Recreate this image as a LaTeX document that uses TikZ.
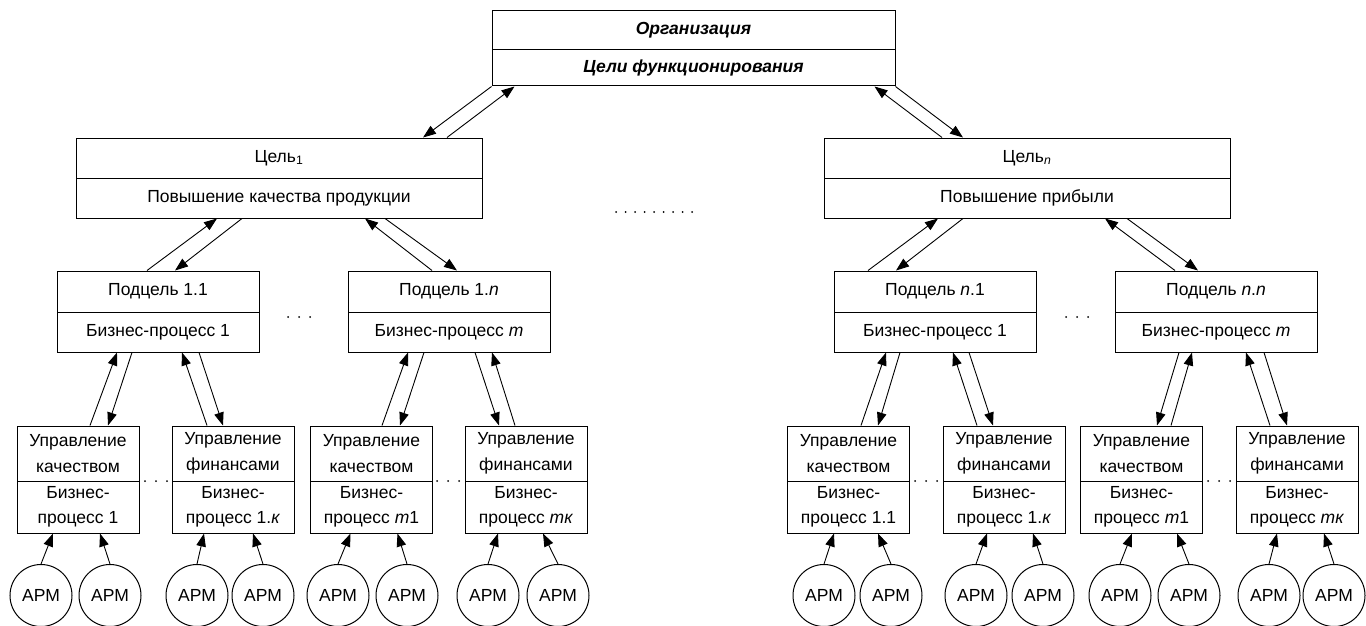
\documentclass[tikz,border=0pt]{standalone}
\usepackage{fontspec}
\setmainfont{Liberation Sans}
\usetikzlibrary{arrows.meta,calc}
\begin{document}
\begin{tikzpicture}[x=1pt,y=-1pt,
  every node/.style={font=\fontsize{17.5}{25.5}\selectfont},
  cell/.style={draw, rectangle, inner sep=0pt, line width=1pt, align=center},
  wide/.style={cell, minimum width=403pt},
  goal/.style={cell, minimum width=406pt, minimum height=40pt},
  sub/.style={cell, minimum width=202pt},
  leaf/.style={cell, minimum width=122pt},
  arm/.style={draw, circle, minimum size=62pt, inner sep=0pt, line width=1pt},
  link/.style={-{Triangle[length=13pt,width=9.5pt]}, line width=0.9pt}
]
\useasboundingbox (0,0) rectangle (1366,626);

% organisation
\node[wide, minimum height=39pt] (T1) at (693.5,30.5) {\textbf{\textit{Организация}}};
\node[wide, minimum height=36pt] (T2) at (693.5,68) {\textbf{\textit{Цели функционирования}}};

% goals
\node[goal] (C1a) at (279,158) {Цель\textsubscript{1}};
\node[goal] (C1b) at (279,198) {Повышение качества продукции};
\node[goal] (Cna) at (1027,158) {Цель\textsubscript{\textit{n}}};
\node[goal] (Cnb) at (1027,198) {Повышение прибыли};

% subgoals
\foreach \n/\x/\u/\v in {P11/158/1.1/1, P1n/449/1.\textit{n}/\textit{m},
                          Pn1/935/\textit{n}.1/1, Pnn/1216/\textit{n}.\textit{n}/\textit{m}} {
  \node[sub, minimum height=41pt] (\n a) at (\x,291.5) {Подцель \u};
  \node[sub, minimum height=40pt] (\n b) at (\x,332) {Бизнес-процесс \v};
}

% business functions
\foreach \n/\x/\u/\v in {B1/78/качеством/1, B2/233/финансами/1.\textit{к},
                          B3/371.5/качеством/\textit{m}1, B4/526/финансами/\textit{mк},
                          B5/848.5/качеством/1.1, B6/1004/финансами/1.\textit{к},
                          B7/1141.5/качеством/\textit{m}1, B8/1297/финансами/\textit{mк}} {
  \node[leaf, minimum height=55pt] (\n a) at (\x,453.5) {Управление\\\u};
  \node[leaf, minimum height=52pt] (\n b) at (\x,507) {Бизнес-\\процесс \v};
}

% workstations
\foreach \n/\x in {A1/41, A2/110, A3/197, A4/263, A5/338, A6/407, A7/488, A8/558,
                   A9/824, A10/891, A11/976, A12/1043, A13/1120, A14/1189, A15/1269, A16/1334} {
  \node[arm] (\n) at (\x,595.5) {АРМ};
}

% organisation <-> goals
\draw[link] (T2.south west) -- ($(C1a.north)+(144,0)$);
\draw[link] ($(C1a.north)+(168,0)$) -- ($(T2.south west)+(23,0)$);
\draw[link] ($(Cna.north)+(-85,0)$) -- ($(T2.south east)+(-21,0)$);
\draw[link] (T2.south east) -- ($(Cna.north)+(-64,0)$);

% goals <-> subgoals
\draw[link] ($(P11a.north)+(-11,0)$) -- ($(C1b.south)+(-62,0)$);
\draw[link] ($(C1b.south)+(-37,0)$) -- ($(P11a.north)+(17,0)$);
\draw[link] ($(P1na.north)+(-17,0)$) -- ($(C1b.south)+(86,0)$);
\draw[link] ($(C1b.south)+(106,0)$) -- ($(P1na.north)+(8,0)$);
\draw[link] ($(Pn1a.north)+(-67,0)$) -- ($(Cnb.south)+(-89,0)$);
\draw[link] ($(Cnb.south)+(-64,0)$) -- ($(Pn1a.north)+(-39,0)$);
\draw[link] ($(Pnna.north)+(-41,0)$) -- ($(Cnb.south)+(78,0)$);
\draw[link] ($(Cnb.south)+(100,0)$) -- ($(Pnna.north)+(-18,0)$);

% subgoals <-> business functions
\draw[link] ($(B1a.north)+(12,0)$) -- ($(P11b.south)+(-41,0)$);
\draw[link] ($(P11b.south)+(-26,0)$) -- ($(B1a.north)+(30,0)$);
\draw[link] ($(B2a.north)+(-26,0)$) -- ($(P11b.south)+(24,0)$);
\draw[link] ($(P11b.south)+(41,0)$) -- ($(B2a.north)+(-10,0)$);
\draw[link] ($(B3a.north)+(10.5,0)$) -- ($(P1nb.south)+(-41,0)$);
\draw[link] ($(P1nb.south)+(-25,0)$) -- ($(B3a.north)+(28.5,0)$);
\draw[link] ($(P1nb.south)+(26,0)$) -- ($(B4a.north)+(-27,0)$);
\draw[link] ($(B4a.north)+(-11,0)$) -- ($(P1nb.south)+(43,0)$);
\draw[link] ($(B5a.north)+(12.5,0)$) -- ($(Pn1b.south)+(-49,0)$);
\draw[link] ($(Pn1b.south)+(-35,0)$) -- ($(B5a.north)+(29.5,0)$);
\draw[link] ($(B6a.north)+(-27,0)$) -- ($(Pn1b.south)+(18,0)$);
\draw[link] ($(Pn1b.south)+(34,0)$) -- ($(B6a.north)+(-11,0)$);
\draw[link] ($(Pnnb.south)+(-37,0)$) -- ($(B7a.north)+(15.5,0)$);
\draw[link] ($(B7a.north)+(29.5,0)$) -- ($(Pnnb.south)+(-24,0)$);
\draw[link] ($(B8a.north)+(-27,0)$) -- ($(Pnnb.south)+(30,0)$);
\draw[link] ($(Pnnb.south)+(48,0)$) -- ($(B8a.north)+(-10,0)$);

% workstations -> business functions
\foreach \b/\l/\r/\dl/\dr in {B1/A1/A2/-25/22, B2/A3/A4/-29/20, B3/A5/A6/-21/26, B4/A7/A8/-28/17,
                               B5/A9/A10/-14.5/29.5, B6/A11/A12/-17/29, B7/A13/A14/-9.5/35.5, B8/A15/A16/-20/27} {
  \draw[link] (\l.north) -- ($(\b b.south)+(\dl,0)$);
  \draw[link] (\r.north) -- ($(\b b.south)+(\dr,0)$);
}

% ellipses between siblings
\foreach \i in {0,...,8} \fill (616+9.5*\i,212) circle (1pt);
\foreach \s in {288,1066} \foreach \i in {0,1,2} \fill (\s+11*\i,317) circle (1pt);
\foreach \s in {145,437,915,1208} \foreach \i in {0,1,2} \fill (\s+11*\i,481) circle (1pt);
\end{tikzpicture}
\end{document}
